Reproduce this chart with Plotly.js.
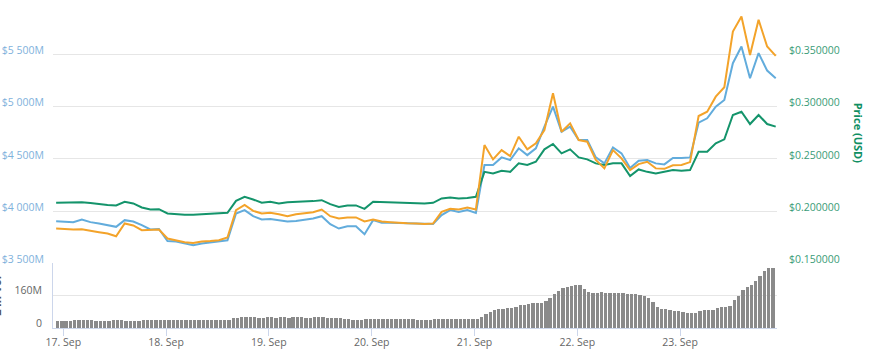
<!DOCTYPE html>
<html><head><meta charset="utf-8">
<script src="https://cdn.plot.ly/plotly-3.0.1.min.js"></script>
<style>html,body{margin:0;padding:0;background:#fff}#chart{width:873px;height:359px}</style>
</head><body><div id="chart"></div>
<script>
// line series: every 2 hours from 16 Sep 22:20 to 23 Sep 22:20
const lineStartUTC = Date.UTC(2018, 8, 16, 22, 20);
const lineStepHours = 2;
// volume bars: hourly from 16 Sep 22:40
const barStartUTC = Date.UTC(2018, 8, 16, 22, 40);

const priceUsd = [0.2080,0.2080,0.2080,0.2086,0.2077,0.2067,0.2060,0.2055,0.2089,0.2074,
 0.2035,0.2016,0.2019,0.1978,0.1971,0.1965,0.1965,0.1968,0.1974,0.1974,
 0.1984,0.2099,0.2137,0.2112,0.2080,0.2089,0.2074,0.2086,0.2089,0.2089,
 0.2096,0.2105,0.2067,0.2041,0.2055,0.2055,0.2022,0.2089,0.2086,0.2080,
 0.2077,0.2074,0.2074,0.2074,0.2080,0.2122,0.2131,0.2122,0.2125,0.2137,
 0.2376,0.2361,0.2386,0.2376,0.2457,0.2441,0.2472,0.2591,0.2642,0.2553,
 0.2591,0.2514,0.2495,0.2457,0.2441,0.2457,0.2457,0.2335,0.2399,0.2376,
 0.2361,0.2374,0.2393,0.2386,0.2393,0.2568,0.2568,0.2649,0.2687,0.2920,
 0.2951,0.2833,0.2920,0.2833,0.2808];

const marketCapM = [3904,3897,3895,3920,3895,3882,3869,3850,3914,3901,
 3866,3825,3830,3715,3710,3691,3674,3691,3700,3706,
 3722,3978,4010,3952,3920,3926,3914,3901,3907,3920,
 3930,3952,3875,3834,3856,3856,3780,3914,3888,3888,
 3885,3882,3878,3878,3878,3962,4010,3993,4010,3984,
 4441,4441,4514,4489,4601,4536,4601,4808,4999,4760,
 4808,4680,4680,4514,4457,4610,4553,4412,4482,4489,
 4457,4447,4508,4508,4514,4846,4888,4999,5063,5415,
 5574,5271,5511,5344,5271];

const priceBtc = [0.00003084,0.00003078,0.00003075,0.00003078,0.00003061,0.00003049,0.00003036,0.00003010,0.00003132,0.00003113,
 0.00003068,0.00003068,0.00003075,0.00002988,0.00002972,0.00002953,0.00002946,0.00002960,0.00002965,0.00002972,
 0.00002998,0.00003260,0.00003310,0.00003253,0.00003228,0.00003234,0.00003221,0.00003202,0.00003221,0.00003234,
 0.00003240,0.00003266,0.00003202,0.00003180,0.00003190,0.00003190,0.00003151,0.00003170,0.00003151,0.00003145,
 0.00003138,0.00003135,0.00003132,0.00003128,0.00003132,0.00003243,0.00003272,0.00003266,0.00003285,0.00003266,
 0.00003882,0.00003745,0.00003834,0.00003777,0.00003962,0.00003841,0.00003899,0.00004026,0.00004378,0.00004010,
 0.00004090,0.00003930,0.00003914,0.00003739,0.00003659,0.00003834,0.00003755,0.00003643,0.00003700,0.00003722,
 0.00003659,0.00003655,0.00003688,0.00003691,0.00003719,0.00004160,0.00004201,0.00004345,0.00004435,0.00004968,
 0.00005111,0.00004744,0.00005080,0.00004824,0.00004735];

const volumeM = [34,35,35,37,40,40,41,40,38,36,36,37,36,39,40,38,37,36,37,37,
 40,41,41,41,41,41,41,40,41,41,41,40,40,40,41,40,40,40,41,41,
 42,48,52,53,53,53,53,52,52,53,53,52,53,53,52,53,53,53,52,52,
 53,53,53,52,52,52,50,47,44,41,40,40,43,43,43,43,43,43,43,43,
 43,43,43,43,41,40,40,41,44,44,45,45,46,46,46,46,45,45,46,55,
 68,80,88,92,96,98,99,104,112,115,120,122,123,124,135,150,170,185,198,205,
 210,213,212,195,180,176,176,177,176,176,176,175,174,168,168,167,165,160,148,130,
 105,95,92,88,85,82,80,76,74,74,86,87,87,90,100,103,104,108,140,160,
 190,205,215,232,260,285,295,298];

const mcapTicks = [3500,4000,4500,5000,5500,6000];
const mcapTickText = ['$3 500M','$4 000M','$4 500M','$5 000M','$5 500M',''];
const priceTicks = [0.15,0.20,0.25,0.30,0.35,0.40];
const priceTickText = ['$0.150000','$0.200000','$0.250000','$0.300000','$0.350000',''];
const volTicks = [0,160,320];
const volTickText = ['0','160M',''];

const H = 3600e3;
const lineTimes = priceUsd.map((_, i) => lineStartUTC + i * lineStepHours * H);
const barTimes = volumeM.map((_, i) => barStartUTC + i * H);

const traces = [
  {type:'scatter', mode:'lines', x:lineTimes, y:marketCapM, yaxis:'y', line:{color:'#62acdc', width:2}, hoverinfo:'skip', name:'Market Cap'},
  {type:'scatter', mode:'lines', x:lineTimes, y:priceBtc, yaxis:'y3', line:{color:'#f3a32a', width:2}, hoverinfo:'skip', name:'Price (BTC)'},
  {type:'scatter', mode:'lines', x:lineTimes, y:priceUsd, yaxis:'y2', line:{color:'#14946b', width:2}, hoverinfo:'skip', name:'Price (USD)'},
  {type:'bar', x:barTimes, y:volumeM, yaxis:'y4', width:0.77*H, marker:{color:'#8a8a8a', line:{width:0}}, hoverinfo:'skip', name:'24h Vol'}
];

const fontFam = '"Open Sans", "DejaVu Sans", sans-serif';
const layout = {
  width:873, height:359,
  margin:{l:53, r:96, t:2, b:31},
  paper_bgcolor:'#ffffff', plot_bgcolor:'#ffffff',
  showlegend:false,
  bargap:0,
  font:{family:fontFam, size:10.5, color:'#666666'},
  xaxis:{type:'date', anchor:'y4', range:[Date.UTC(2018,8,16,21,36), Date.UTC(2018,8,23,22,38)],
    tickformat:'%-d. %b', dtick:86400000, tick0:'2018-09-17', ticks:'outside', ticklen:7, tickcolor:'#ccd6eb',
    ticklabelstandoff:-3,
    showline:true, linecolor:'#ccd6eb', showgrid:false, zeroline:false, tickfont:{color:'#666666', size:10.5}},
  yaxis:{domain:[0.198,1], range:[3500,6000], tickmode:'array', tickvals:mcapTicks, ticktext:mcapTickText,
    tickfont:{color:'#7fb2dc', size:10.5}, gridcolor:'#e6e6e6', zeroline:false, ticks:'', ticklabelstandoff:8, ticklabelshift:-4},
  yaxis2:{overlaying:'y', side:'right', anchor:'x', range:[0.15,0.40], tickmode:'array', tickvals:priceTicks, ticktext:priceTickText,
    showgrid:false, zeroline:false, ticks:'', tickfont:{color:'#3a9c78', size:10.5}, ticklabelstandoff:11, ticklabelshift:-4},
  yaxis3:{overlaying:'y', range:[0.0000275,0.0000525], visible:false},
  yaxis4:{domain:[0,0.198], range:[0,320], tickmode:'array', tickvals:volTicks, ticktext:volTickText,
    gridcolor:'#e6e6e6', showline:true, linecolor:'#ccd6eb', zeroline:false, ticks:'', tickfont:{color:'#666666', size:10.5},
    ticklabelstandoff:8, ticklabelshift:-5},
  annotations:[
    {text:'<b>Price (USD)</b>', xref:'paper', yref:'paper', x:1.1119, y:0.599, textangle:90, showarrow:false,
     xanchor:'center', yanchor:'middle', font:{family:fontFam, size:11, color:'#0f8f62'}},
    {text:'<b>24h Vol</b>', xref:'paper', yref:'paper', x:-0.0773, y:0.099, textangle:-90, showarrow:false,
     xanchor:'center', yanchor:'middle', font:{family:fontFam, size:11, color:'#555555'}}
  ]
};

Plotly.newPlot('chart', traces, layout, {staticPlot:true, displayModeBar:false});
</script>
</body></html>
